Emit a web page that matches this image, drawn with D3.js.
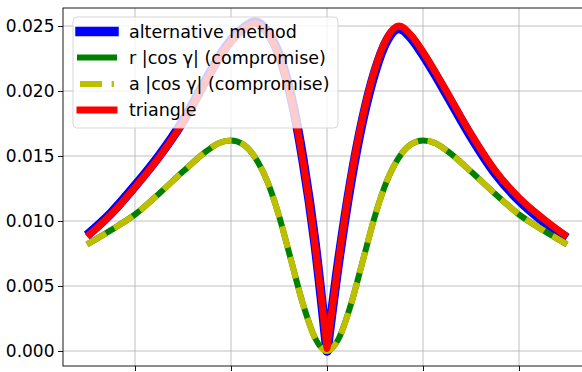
<!DOCTYPE html>
<html><head><meta charset="utf-8">
<script src="https://cdn.jsdelivr.net/npm/d3@7"></script>
<style>body{margin:0;background:#fff;overflow:hidden} svg{display:block}</style>
</head><body><svg id="c" width="582" height="372"></svg>
<script>
// ---- data ----
const xValues = [-2.5,-2.25,-2,-1.75,-1.5,-1.25,-1.125,-1,-0.875,-0.75,-0.625,-0.5,-0.375,-0.25,-0.125,0,
                 0.125,0.25,0.375,0.5,0.625,0.75,0.875,1,1.125,1.25,1.5,1.75,2,2.25,2.5];
const altMethod = [0.0089,0.0106,0.0127,0.0150,0.0177,0.0210,0.0226,0.0239,0.0248,0.0253,0.0246,0.0228,0.0196,0.0147,0.0083,0.0000,
                   0.0071,0.0131,0.0179,0.0215,0.0239,0.0248,0.0241,0.0228,0.0213,0.0197,0.0165,0.0137,0.0116,0.0100,0.0087];
const rCos = [0.0082,0.0093,0.0105,0.0121,0.0138,0.0154,0.0160,0.0162,0.0159,0.0149,0.0131,0.0104,0.0070,0.0036,0.0010,0.0000,
              0.0010,0.0036,0.0070,0.0104,0.0131,0.0149,0.0159,0.0162,0.0160,0.0154,0.0138,0.0121,0.0105,0.0093,0.0082];
const aCos = [0.0082,0.0093,0.0105,0.0121,0.0138,0.0154,0.0160,0.0162,0.0159,0.0149,0.0131,0.0104,0.0070,0.0036,0.0010,0.0000,
              0.0010,0.0036,0.0070,0.0104,0.0131,0.0149,0.0159,0.0162,0.0160,0.0154,0.0138,0.0121,0.0105,0.0093,0.0082];
const triangle = [0.0088,0.0105,0.0126,0.0149,0.0176,0.0209,0.0225,0.0238,0.0247,0.0252,0.0245,0.0227,0.0195,0.0146,0.0082,0.0002,
                  0.0072,0.0133,0.0181,0.0217,0.0241,0.0250,0.0243,0.0230,0.0215,0.0199,0.0167,0.0139,0.0118,0.0102,0.0088];
const seriesNames = ["alternative method","r |cos \u03b3| (compromise)","a |cos \u03b3| (compromise)","triangle"];
const xTicks = [-2,-1,0,1,2];
const yTicks = [0,0.005,0.010,0.015,0.020,0.025];

// ---- layout ----
const L = 63, T = 8, R = 591, B = 366;
const svg = d3.select("#c");
const x = d3.scaleLinear().domain([-2.75, 2.75]).range([L, R]);
const y0 = d3.scaleLinear().domain([0, 0.025]).range([351, 26]);
const y = d3.scaleLinear().domain([y0.invert(B), y0.invert(T)]).range([B, T]);

svg.append("defs").append("clipPath").attr("id","clip")
  .append("rect").attr("x",L).attr("y",T).attr("width",R-L).attr("height",B-T);

// grid
const grid = svg.append("g").attr("stroke","#b0b0b0").attr("stroke-width",0.8);
xTicks.forEach(t => grid.append("line").attr("x1",x(t)).attr("x2",x(t)).attr("y1",T).attr("y2",B));
yTicks.forEach(t => grid.append("line").attr("x1",L).attr("x2",R).attr("y1",y(t)).attr("y2",y(t)));

// lines
const pts = arr => xValues.map((u,i)=>[u,arr[i]]);
const mono = d3.line().x(d=>x(d[0])).y(d=>y(d[1])).curve(d3.curveMonotoneX);
function vPath(arr){
  const p = pts(arr);
  const mid = xValues.indexOf(0);
  const a = mono(p.slice(0, mid+1));
  const b = mono(p.slice(mid)).replace(/^M/, "L");
  return a + b;
}
const g = svg.append("g").attr("clip-path","url(#clip)").attr("fill","none")
  .attr("stroke-linejoin","round");
g.append("path").attr("d", vPath(altMethod)).attr("stroke","#0000ff").attr("stroke-width",9.5);
g.append("path").attr("d", mono(pts(rCos))).attr("stroke","#008000").attr("stroke-width",6);
g.append("path").attr("d", mono(pts(aCos))).attr("stroke","#bfbf00").attr("stroke-width",6)
  .attr("stroke-dasharray","22,9.6");
g.append("path").attr("d", vPath(triangle)).attr("stroke","#ff0000").attr("stroke-width",7);

// axes
const fs = 17;
const ya = svg.append("g").attr("transform",`translate(${L},0)`)
  .call(d3.axisLeft(y).tickValues(yTicks).tickFormat(d3.format(".3f")).tickSize(5).tickPadding(3.5));
const xa = svg.append("g").attr("transform",`translate(0,${B})`)
  .call(d3.axisBottom(x).tickValues(xTicks).tickFormat("").tickSize(5));
[ya, xa].forEach(a => {
  a.select(".domain").remove();
  a.selectAll(".tick line").attr("stroke","#000").attr("stroke-width",0.9);
  a.selectAll("text").attr("font-family","DejaVu Sans").attr("font-size",fs).attr("fill","#000");
});
// spines
const sp = svg.append("g").attr("stroke","#000").attr("stroke-width",0.9).attr("fill","none");
sp.append("rect").attr("x",L).attr("y",T).attr("width",R-L).attr("height",B-T);

// legend
const lg = svg.append("g");
lg.append("rect").attr("x",73).attr("y",17).attr("width",265).attr("height",111).attr("rx",4)
  .attr("fill","#fff").attr("fill-opacity",0.8).attr("stroke","#cccccc").attr("stroke-opacity",0.8);
const rows = [31.5, 57.5, 84, 110];
const sty = [
  {c:"#0000ff", w:9.5, d:null},
  {c:"#008000", w:6, d:null},
  {c:"#bfbf00", w:6, d:"22,9.6"},
  {c:"#ff0000", w:7, d:null}
];
seriesNames.forEach((n,i)=>{
  const s = sty[i];
  const ln = lg.append("line").attr("x1",80).attr("x2",114).attr("y1",rows[i]).attr("y2",rows[i])
    .attr("stroke",s.c).attr("stroke-width",s.w).attr("stroke-linecap", s.d ? "butt" : "square");
  if (s.d) ln.attr("stroke-dasharray", s.d);
  lg.append("text").attr("x",129).attr("y",rows[i]).attr("dy","0.35em")
    .attr("font-family","DejaVu Sans").attr("font-size",17.5).attr("fill","#000").text(n);
});
</script></body></html>
